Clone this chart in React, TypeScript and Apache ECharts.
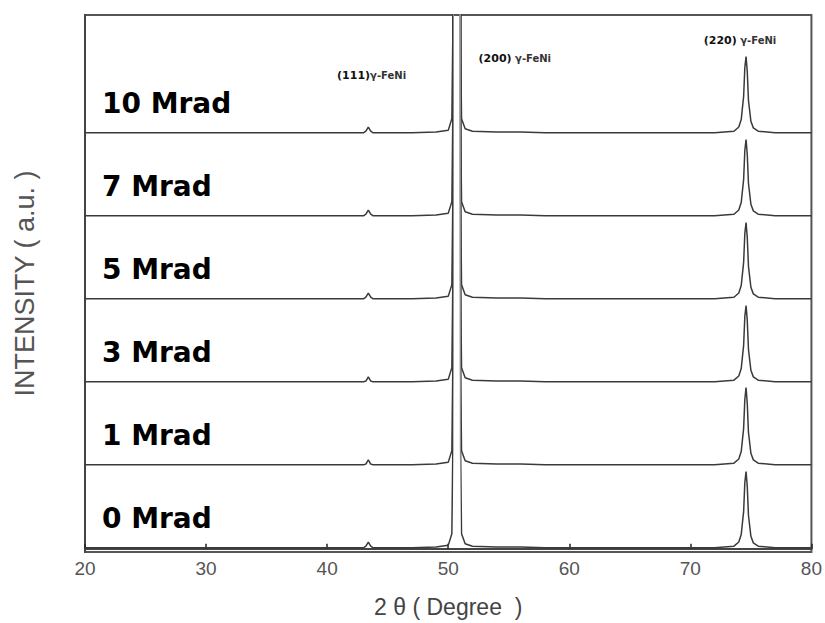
import React, { useEffect, useRef } from "react";
import * as echarts from "echarts";

// 2θ positions (degrees) shared by every pattern
const twoTheta = [
  20, 22, 24, 26, 28, 30, 32, 34, 36, 38, 40, 42,
  43.0, 43.2, 43.4, 43.6, 43.8,
  45, 47, 49,
  50.0, 50.3, 50.38, 50.42, 50.7, 50.98, 51.02, 51.1, 51.4,
  52, 54, 56, 58, 60, 62, 64, 66, 68, 70, 72,
  73.6, 74.0, 74.2, 74.4, 74.5, 74.6, 74.7, 74.8, 75.0, 75.2, 75.6,
  77, 79, 80,
];

// intensities (a.u.), one list per dose
const i0 = [1, 1, 1, 1, 1, 1, 1, 1, 1, 1, 1, 1, 1, 3, 8, 3, 1, 1, 1, 2, 4, 18, 120, 2000, 8000, 2000, 120, 18, 6, 3, 2, 2, 1, 1, 1, 1, 1, 1, 1, 1, 3, 8, 17, 45, 80, 93, 75, 40, 15, 7, 3, 1, 1, 1];
const i1 = [1, 1, 1, 1, 1, 1, 1, 1, 1, 1, 1, 1, 1, 2, 7, 2, 1, 1, 1, 2, 4, 18, 120, 2000, 8000, 2000, 120, 18, 6, 3, 2, 2, 1, 1, 1, 1, 1, 1, 1, 1, 3, 8, 17, 45, 80, 94, 75, 40, 15, 7, 3, 1, 1, 1];
const i3 = [1, 1, 1, 1, 1, 1, 1, 1, 1, 1, 1, 1, 1, 2, 7, 2, 1, 1, 1, 2, 4, 18, 120, 2000, 8000, 2000, 120, 18, 6, 3, 2, 2, 1, 1, 1, 1, 1, 1, 1, 1, 3, 8, 17, 45, 80, 93, 75, 40, 15, 7, 3, 1, 1, 1];
const i5 = [1, 1, 1, 1, 1, 1, 1, 1, 1, 1, 1, 1, 1, 3, 8, 3, 1, 1, 1, 2, 4, 18, 120, 2000, 8000, 2000, 120, 18, 6, 3, 2, 2, 1, 1, 1, 1, 1, 1, 1, 1, 3, 8, 17, 45, 80, 93, 75, 40, 15, 7, 3, 1, 1, 1];
const i7 = [1, 1, 1, 1, 1, 1, 1, 1, 1, 1, 1, 1, 1, 3, 8, 3, 1, 1, 1, 2, 4, 18, 120, 2000, 8000, 2000, 120, 18, 6, 3, 2, 2, 1, 1, 1, 1, 1, 1, 1, 1, 3, 8, 17, 45, 80, 93, 75, 40, 15, 7, 3, 1, 1, 1];
const i10 = [1, 1, 1, 1, 1, 1, 1, 1, 1, 1, 1, 1, 1, 3, 8, 3, 1, 1, 1, 2, 4, 18, 120, 2000, 8000, 2000, 120, 18, 6, 3, 2, 2, 1, 1, 1, 1, 1, 1, 1, 1, 3, 8, 17, 45, 80, 93, 75, 40, 15, 7, 3, 1, 1, 1];

const doseLabels = ["0 Mrad", "1 Mrad", "3 Mrad", "5 Mrad", "7 Mrad", "10 Mrad"];
const patterns = [i0, i1, i3, i5, i7, i10];
const offsets = [0, 100, 200, 300, 400, 500];

const peakIndices = ["(111)", "(200)", "(220)"];
const peakPhase = ["γ-FeNi", " γ-FeNi", " γ-FeNi"];
const peakLabelX = [43.67, 55.5, 74.1];
const peakLabelY = [570, 590, 612];

export default function App() {
  const ref = useRef<HTMLDivElement>(null);

  useEffect(() => {
    if (!ref.current) return;
    const chart = echarts.init(ref.current, undefined, { renderer: "svg" });

    const series: any[] = patterns.map((p, k) => ({
      type: "line",
      name: doseLabels[k],
      data: twoTheta.map((x, j) => [x, p[j] + offsets[k]]),
      showSymbol: false,
      symbol: "none",
      smooth: false,
      clip: true,
      lineStyle: { width: 1.5 },
      z: 2,
    }));

    // dose labels placed in data space, left of each pattern
    series.push({
      type: "scatter",
      symbolSize: 0,
      silent: true,
      itemStyle: { opacity: 1, color: "#000" },
      data: offsets.map((o, k) => ({ value: [21.4, o + 36], name: doseLabels[k] })),
      label: {
        show: true,
        position: "right",
        distance: 0,
        formatter: (p: any) => p.name,
        fontFamily: "DejaVu Sans",
        fontWeight: "bold",
        fontSize: 28,
        color: "#000",
      },
      z: 5,
    });

    // peak index labels
    series.push({
      type: "scatter",
      symbolSize: 0,
      silent: true,
      itemStyle: { opacity: 1, color: "#000" },
      data: peakIndices.map((t, k) => ({
        value: [peakLabelX[k], peakLabelY[k]],
        name: t,
        phase: peakPhase[k],
      })),
      label: {
        show: true,
        position: "inside",
        formatter: (p: any) => `{a|${p.name}}{b|${p.data.phase}}`,
        rich: {
          a: { fontFamily: "DejaVu Sans", fontWeight: "bold", fontSize: 11, color: "#111" },
          b: { fontFamily: "DejaVu Sans", fontWeight: "bold", fontSize: 10, color: "#333" },
        },
      },
      z: 5,
    });

    chart.setOption({
      animation: false,
      backgroundColor: "#ffffff",
      grid: {
        left: 85,
        right: 10,
        top: 15,
        bottom: 70,
        show: true,
        borderColor: "#555",
        borderWidth: 2,
        backgroundColor: "transparent",
      },
      visualMap: {
        show: false,
        type: "piecewise",
        dimension: 0,
        seriesIndex: [0, 1, 2, 3, 4, 5],
        pieces: [
          { lt: 50.36, color: "#3a3a3a" },
          { gte: 50.36, lte: 51.04, color: "#8c8c8c" },
          { gt: 51.04, color: "#3a3a3a" },
        ],
      },
      xAxis: {
        type: "value",
        min: 20,
        max: 80,
        interval: 10,
        name: "2 θ ( Degree  )",
        nameLocation: "middle",
        nameGap: 43,
        nameTextStyle: { fontFamily: "Liberation Sans", fontSize: 23, color: "#444" },
        axisLine: { show: true, lineStyle: { color: "#444", width: 2 } },
        axisTick: { show: true, inside: true, length: 5, lineStyle: { color: "#222", width: 1.5 } },
        axisLabel: { fontFamily: "Liberation Sans", fontSize: 19, color: "#555", margin: 7 },
        splitLine: { show: false },
      },
      yAxis: {
        type: "value",
        min: -4,
        max: 643,
        name: "INTENSITY ( a.u. )",
        nameLocation: "middle",
        nameGap: 47,
        nameTextStyle: { fontFamily: "Liberation Sans", fontSize: 27, color: "#555" },
        axisLine: { show: true, lineStyle: { color: "#444", width: 2 } },
        axisTick: { show: false },
        axisLabel: { show: false },
        splitLine: { show: false },
      },
      series,
    });

    return () => chart.dispose();
  }, []);

  return <div ref={ref} style={{ width: 825, height: 623, position: "absolute", left: 0, top: 0 }} />;
}
